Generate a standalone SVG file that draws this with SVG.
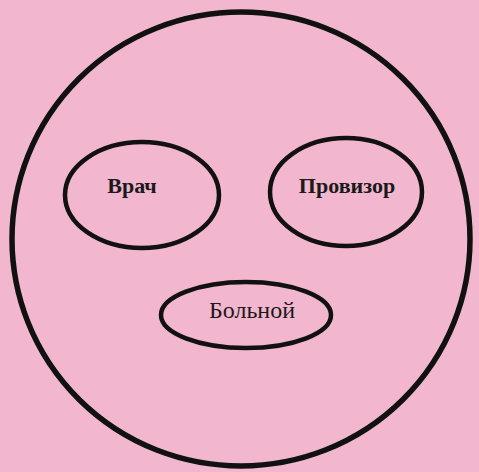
<svg xmlns="http://www.w3.org/2000/svg" width="479" height="472" viewBox="0 0 479 472">
<style>
.sh{fill:none;stroke:#111;}
.t{font-family:"Liberation Serif","Times New Roman",serif;fill:#1a1a1a;text-anchor:middle;}
</style>
<rect width="479" height="472" fill="#f2b6cf"/>
<g id="face"><ellipse class="sh" cx="241" cy="239" rx="229" ry="227" stroke-width="5.5"/></g>
<g id="vrach"><ellipse class="sh" cx="142" cy="195" rx="77" ry="53" stroke-width="4.5"/><text class="t" x="132" y="193" font-size="22" font-weight="bold">Врач</text></g>
<g id="provizor"><ellipse class="sh" cx="346" cy="192" rx="76" ry="54" stroke-width="4.5"/><text class="t" x="347" y="193" font-size="22" font-weight="bold">Провизор</text></g>
<g id="bolnoy"><ellipse class="sh" cx="246" cy="315" rx="85" ry="33" stroke-width="4.5"/><text class="t" x="252" y="318" font-size="24">Больной</text></g>
<g id="connectors"></g>
</svg>
